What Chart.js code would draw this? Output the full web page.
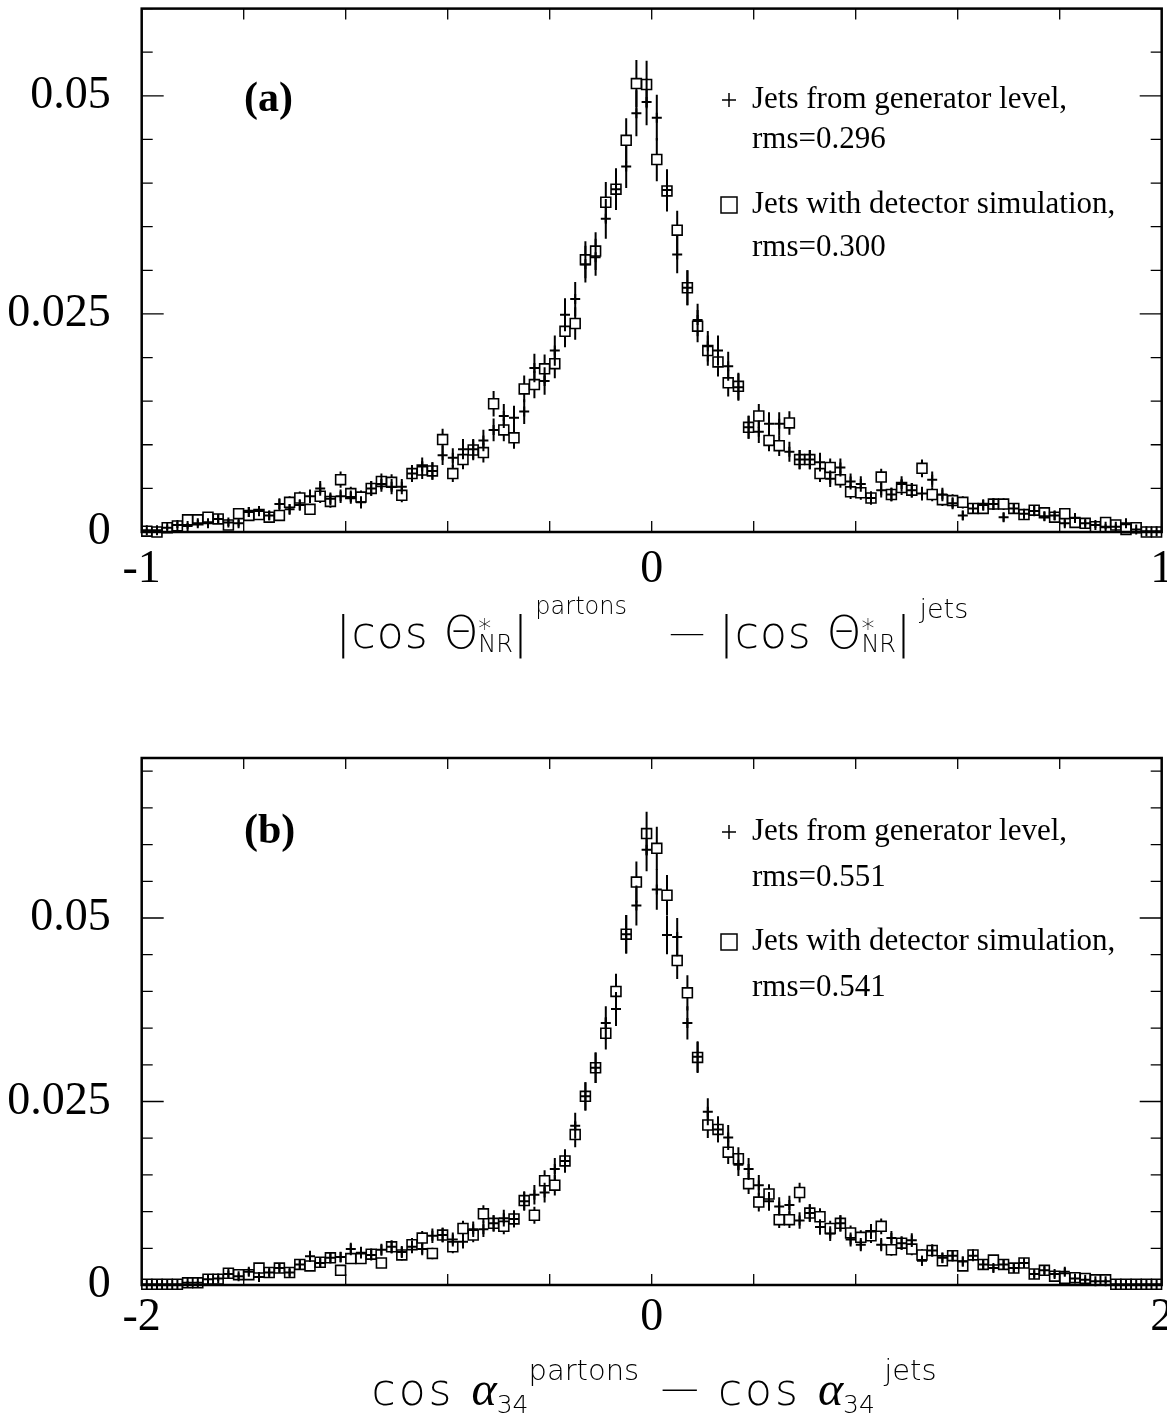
<!DOCTYPE html>
<html>
<head>
<meta charset="utf-8">
<script src="https://cdn.jsdelivr.net/npm/chart.js@4.4.1/dist/chart.umd.min.js"></script>
<style>
  html, body { margin: 0; padding: 0; background: #fff; overflow: hidden; width: 1167px; height: 1423px; }
  .panel { position: absolute; left: 0; }
  #panelA { top: 0; }
  #panelB { top: 700px; }
</style>
</head>
<body>
<div class="panel" id="panelA"><canvas id="chartA" width="1200" height="700"></canvas></div>
<div class="panel" id="panelB"><canvas id="chartB" width="1200" height="723"></canvas></div>
<script>
// ---- data (100 bins per panel) ----
const rangeA = [-1, 1];
const rangeB = [-2, 2];

// (a) |cos theta*_NR| partons - jets
const genA = [
  0.0002, 0.0002, 0.0005, 0.0008, 0.0007, 0.0010, 0.0010, 0.0015, 0.0011, 0.0010,
  0.0023, 0.0024, 0.0019, 0.0032, 0.0026, 0.0031, 0.0041, 0.0050, 0.0038, 0.0041,
  0.0040, 0.0034, 0.0050, 0.0055, 0.0052, 0.0052, 0.0067, 0.0075, 0.0070, 0.0088,
  0.0085, 0.0095, 0.0095, 0.0105, 0.0117, 0.0133, 0.0131, 0.0138, 0.0188, 0.0173,
  0.0208, 0.0249, 0.0267, 0.0307, 0.0315, 0.0359, 0.0393, 0.0419, 0.0480, 0.0493,
  0.0475, 0.0392, 0.0318, 0.0280, 0.0243, 0.0213, 0.0208, 0.0190, 0.0166, 0.0120,
  0.0115, 0.0124, 0.0124, 0.0092, 0.0083, 0.0083, 0.0080, 0.0061, 0.0074, 0.0058,
  0.0055, 0.0039, 0.0048, 0.0043, 0.0055, 0.0048, 0.0044, 0.0060, 0.0043, 0.0033,
  0.0019, 0.0027, 0.0031, 0.0032, 0.0017, 0.0027, 0.0021, 0.0024, 0.0018, 0.0019,
  0.0010, 0.0016, 0.0010, 0.0008, 0.0006, 0.0006, 0.0010, 0.0003, 0.0001, 0.0001
];
const detA = [
  0.0001, 0.0000, 0.0005, 0.0007, 0.0014, 0.0014, 0.0017, 0.0015, 0.0008, 0.0021,
  0.0019, 0.0020, 0.0017, 0.0019, 0.0034, 0.0039, 0.0026, 0.0041, 0.0035, 0.0060,
  0.0044, 0.0040, 0.0050, 0.0058, 0.0057, 0.0042, 0.0067, 0.0071, 0.0070, 0.0106,
  0.0067, 0.0083, 0.0094, 0.0091, 0.0147, 0.0117, 0.0108, 0.0164, 0.0169, 0.0187,
  0.0193, 0.0230, 0.0239, 0.0312, 0.0322, 0.0378, 0.0393, 0.0449, 0.0514, 0.0513,
  0.0427, 0.0391, 0.0346, 0.0280, 0.0236, 0.0208, 0.0195, 0.0171, 0.0167, 0.0120,
  0.0133, 0.0105, 0.0099, 0.0125, 0.0083, 0.0083, 0.0067, 0.0074, 0.0060, 0.0046,
  0.0045, 0.0039, 0.0063, 0.0043, 0.0051, 0.0048, 0.0073, 0.0043, 0.0037, 0.0036,
  0.0034, 0.0027, 0.0027, 0.0032, 0.0032, 0.0027, 0.0020, 0.0025, 0.0022, 0.0017,
  0.0021, 0.0011, 0.0010, 0.0006, 0.0011, 0.0008, 0.0003, 0.0005, 0.0000, 0.0000
];

// (b) cos alpha_34 partons - jets
const genB = [
  0.0001, 0.0001, 0.0001, 0.0001, 0.0003, 0.0003, 0.0008, 0.0009, 0.0015, 0.0012,
  0.0018, 0.0011, 0.0017, 0.0023, 0.0017, 0.0028, 0.0039, 0.0030, 0.0037, 0.0038,
  0.0049, 0.0044, 0.0041, 0.0048, 0.0052, 0.0045, 0.0052, 0.0049, 0.0067, 0.0068,
  0.0062, 0.0059, 0.0076, 0.0076, 0.0084, 0.0091, 0.0090, 0.0114, 0.0123, 0.0126,
  0.0158, 0.0169, 0.0217, 0.0257, 0.0296, 0.0357, 0.0376, 0.0478, 0.0517, 0.0593,
  0.0539, 0.0477, 0.0474, 0.0357, 0.0311, 0.0236, 0.0212, 0.0201, 0.0164, 0.0158,
  0.0136, 0.0114, 0.0107, 0.0109, 0.0088, 0.0098, 0.0079, 0.0070, 0.0084, 0.0062,
  0.0055, 0.0073, 0.0055, 0.0064, 0.0057, 0.0061, 0.0033, 0.0047, 0.0037, 0.0040,
  0.0032, 0.0040, 0.0028, 0.0023, 0.0028, 0.0023, 0.0030, 0.0015, 0.0020, 0.0015,
  0.0018, 0.0009, 0.0007, 0.0005, 0.0005, 0.0001, 0.0001, 0.0001, 0.0001, 0.0001
];
const detB = [
  0.0001, 0.0001, 0.0001, 0.0001, 0.0003, 0.0003, 0.0008, 0.0008, 0.0016, 0.0014,
  0.0014, 0.0023, 0.0017, 0.0023, 0.0017, 0.0028, 0.0026, 0.0031, 0.0037, 0.0020,
  0.0036, 0.0036, 0.0042, 0.0030, 0.0052, 0.0041, 0.0055, 0.0064, 0.0043, 0.0068,
  0.0052, 0.0077, 0.0068, 0.0097, 0.0084, 0.0080, 0.0090, 0.0115, 0.0095, 0.0142,
  0.0136, 0.0169, 0.0205, 0.0257, 0.0296, 0.0343, 0.0400, 0.0478, 0.0549, 0.0615,
  0.0595, 0.0531, 0.0442, 0.0398, 0.0310, 0.0218, 0.0212, 0.0181, 0.0172, 0.0138,
  0.0113, 0.0124, 0.0089, 0.0089, 0.0126, 0.0098, 0.0093, 0.0077, 0.0084, 0.0071,
  0.0065, 0.0067, 0.0080, 0.0048, 0.0057, 0.0049, 0.0041, 0.0047, 0.0033, 0.0040,
  0.0026, 0.0041, 0.0028, 0.0034, 0.0028, 0.0023, 0.0030, 0.0015, 0.0020, 0.0012,
  0.0009, 0.0010, 0.0009, 0.0007, 0.0007, 0.0001, 0.0001, 0.0001, 0.0001, 0.0001
];

const legendA = ['Jets from generator level,', 'rms=0.296', 'Jets with detector simulation,', 'rms=0.300'];
const legendB = ['Jets from generator level,', 'rms=0.551', 'Jets with detector simulation,', 'rms=0.541'];

const xTicksA = [-1, 0, 1];
const xTickLabelsA = ['-1', '0', '1'];
const xTicksB = [-2, 0, 2];
const xTickLabelsB = ['-2', '0', '2'];
const yTicks = [0, 0.025, 0.05];
const yTickLabels = ['0', '0.025', '0.05'];

// statistical error scale (err = k * sqrt(content))
const errScale = 0.012;

// ---- helpers ----
const plotLeft = 141.7;
const plotRight = 1161.7;
const canvasW = 1200;
const serif = '"Liberation Serif", "Times New Roman", serif';
const titleFont = '"DejaVu Sans", sans-serif';

function toPoints(range, vals) {
  const w = (range[1] - range[0]) / vals.length;
  return vals.map((v, i) => ({ x: range[0] + (i + 0.5) * w, y: v }));
}

function fontOf(p) {
  if (p.serif) return 'italic ' + p.size + 'px ' + serif;
  return '200 ' + p.size + 'px ' + titleFont;
}

// draws a title made of pieces; a piece with stack:true shares its x with the next one
function drawTitle(ctx, parts, cx, baseline) {
  ctx.save();
  ctx.fillStyle = '#000';
  ctx.textBaseline = 'alphabetic';
  ctx.textAlign = 'left';
  const widths = parts.map(p => {
    ctx.font = fontOf(p);
    ctx.letterSpacing = (p.ls || 0) + 'px';
    return ctx.measureText(p.t).width;
  });
  let total = 0, stackW = null;
  parts.forEach((p, i) => {
    if (p.stack) { stackW = widths[i]; return; }
    total += stackW !== null ? Math.max(stackW, widths[i]) : widths[i];
    stackW = null;
  });
  let x = cx - total / 2;
  stackW = null;
  parts.forEach((p, i) => {
    ctx.font = fontOf(p);
    ctx.letterSpacing = (p.ls || 0) + 'px';
    ctx.fillText(p.t, x, baseline + (p.dy || 0));
    if (p.stack) { stackW = widths[i]; return; }
    x += stackW !== null ? Math.max(stackW, widths[i]) : widths[i];
    stackW = null;
  });
  ctx.restore();
}

function panelPlugin(cfg) {
  return {
    id: 'panel' + cfg.tag,
    beforeDatasetDraw(chart, args) {
      // vertical error bars, drawn just before each dataset's markers
      const ds = chart.data.datasets[args.index];
      const y = chart.scales.y;
      const ctx = chart.ctx;
      ctx.save();
      ctx.strokeStyle = '#000';
      ctx.lineWidth = 2;
      ctx.beginPath();
      args.meta.data.forEach((el, i) => {
        const v = ds.data[i].y, e = ds.errors[i];
        ctx.moveTo(el.x, y.getPixelForValue(v - e));
        ctx.lineTo(el.x, y.getPixelForValue(v + e));
      });
      ctx.stroke();
      ctx.restore();
    },
    afterDatasetsDraw(chart) {
      const { ctx, chartArea } = chart;
      const { left, right, top, bottom } = chartArea;
      const xs = chart.scales.x, ys = chart.scales.y;
      ctx.save();
      ctx.strokeStyle = '#000';
      // tick marks, pointing inwards on all four sides
      ctx.lineWidth = 1.3;
      ctx.beginPath();
      const nx = Math.round((cfg.range[1] - cfg.range[0]) / cfg.xStep);
      for (let k = 1; k < nx; k++) {
        const px = xs.getPixelForValue(cfg.range[0] + k * cfg.xStep);
        ctx.moveTo(px, bottom); ctx.lineTo(px, bottom - 11);
        ctx.moveTo(px, top); ctx.lineTo(px, top + 11);
      }
      const ny = Math.floor(cfg.yMax / cfg.yStep + 1e-6);
      for (let k = 1; k <= ny; k++) {
        const py = ys.getPixelForValue(k * cfg.yStep);
        const len = (k % cfg.majorEvery === 0) ? 22 : 11;
        ctx.moveTo(left, py); ctx.lineTo(left + len, py);
        ctx.moveTo(right, py); ctx.lineTo(right - len, py);
      }
      ctx.stroke();
      // frame
      ctx.lineWidth = 2.5;
      ctx.strokeRect(left, top, right - left, bottom - top);

      // panel tag
      ctx.fillStyle = '#000';
      ctx.textBaseline = 'middle';
      ctx.font = 'bold 42px ' + serif;
      ctx.fillText(cfg.tag, 244, cfg.legendY[0]);

      // legend
      const lx = 729, tx = 752;
      ctx.lineWidth = 1.5;
      ctx.beginPath();
      ctx.moveTo(lx - 7, cfg.legendY[0]); ctx.lineTo(lx + 7, cfg.legendY[0]);
      ctx.moveTo(lx, cfg.legendY[0] - 7); ctx.lineTo(lx, cfg.legendY[0] + 7);
      ctx.stroke();
      ctx.strokeRect(lx - 8, cfg.legendY[2] - 8, 16, 16);
      ctx.font = '31px ' + serif;
      cfg.legend.forEach((t, i) => ctx.fillText(t, tx, cfg.legendY[i]));

      // axis title
      drawTitle(ctx, cfg.title, cfg.titleX, cfg.titleBaseline);
      ctx.restore();
    }
  };
}

function makeChart(id, cfg) {
  const ctx = document.getElementById(id).getContext('2d');
  return new Chart(ctx, {
    type: 'scatter',
    data: {
      datasets: [{
        label: 'Jets from generator level',
        data: toPoints(cfg.range, cfg.gen),
        errors: cfg.gen.map(v => errScale * Math.sqrt(v)),
        pointStyle: 'cross',
        pointRadius: 5,
        pointBorderWidth: 2,
        pointBorderColor: '#000',
        pointBackgroundColor: '#000',
        clip: false
      }, {
        label: 'Jets with detector simulation',
        data: toPoints(cfg.range, cfg.det),
        errors: cfg.det.map(v => errScale * Math.sqrt(v)),
        pointStyle: 'rect',
        pointRadius: 7,
        pointBorderWidth: 1.6,
        pointBorderColor: '#000',
        pointBackgroundColor: '#fff',
        clip: false
      }]
    },
    options: {
      responsive: false,
      animation: false,
      events: [],
      layout: { padding: { top: cfg.padTop, right: canvasW - plotRight, left: 0, bottom: 0 } },
      plugins: { legend: { display: false }, tooltip: { enabled: false } },
      scales: {
        x: {
          type: 'linear', min: cfg.range[0], max: cfg.range[1],
          grid: { display: false, drawTicks: false }, border: { display: false },
          afterBuildTicks: s => { s.ticks = cfg.xTicks.map(v => ({ value: v })); },
          afterFit: s => { s.height = cfg.canvasH - cfg.plotBottom; s.paddingLeft = 0; s.paddingRight = 0; },
          ticks: {
            callback: (v, i) => cfg.xLabels[i],
            font: { family: serif, size: 46 }, color: '#000',
            padding: cfg.xLabelPad, maxRotation: 0, autoSkip: false
          }
        },
        y: {
          type: 'linear', min: 0, max: cfg.yMax,
          grid: { display: false, drawTicks: false }, border: { display: false },
          afterBuildTicks: s => { s.ticks = yTicks.map(v => ({ value: v })); },
          afterFit: s => { s.width = plotLeft; s.paddingTop = 0; s.paddingBottom = 0; },
          ticks: {
            callback: (v, i) => yTickLabels[i],
            font: { family: serif, size: 46 }, color: '#000',
            padding: 31
          }
        }
      }
    },
    plugins: [panelPlugin(cfg)]
  });
}

// (a)
makeChart('chartA', {
  tag: '(a)', range: rangeA, gen: genA, det: detA,
  yMax: 0.06, padTop: 8, plotBottom: 532, canvasH: 700, xLabelPad: 10,
  xTicks: xTicksA, xLabels: xTickLabelsA, xStep: 0.2, yStep: 0.005, majorEvery: 5,
  legend: legendA, legendY: [100, 140, 205, 248],
  titleX: 652, titleBaseline: 648,
  title: [
    { t: '|cos ', size: 44, ls: 1 },
    { t: 'Θ', size: 44 },
    { t: '*', size: 26, dy: -10, stack: true },
    { t: 'NR', size: 24, dy: 4 },
    { t: '|', size: 44 },
    { t: ' partons', size: 24, dy: -34 },
    { t: '   ', size: 44 },
    { t: '—', size: 36, dy: -4 },
    { t: ' ', size: 44 },
    { t: '|cos ', size: 44, ls: 1 },
    { t: 'Θ', size: 44 },
    { t: '*', size: 26, dy: -10, stack: true },
    { t: 'NR', size: 24, dy: 4 },
    { t: '|', size: 44 },
    { t: ' jets', size: 27, dy: -30 }
  ]
});

// (b)
makeChart('chartB', {
  tag: '(b)', range: rangeB, gen: genB, det: detB,
  yMax: 0.0718, padTop: 58, plotBottom: 585, canvasH: 723, xLabelPad: 5,
  xTicks: xTicksB, xLabels: xTickLabelsB, xStep: 0.4, yStep: 0.005, majorEvery: 5,
  legend: legendB, legendY: [132, 178, 242, 288],
  titleX: 654, titleBaseline: 705,
  title: [
    { t: 'cos ', size: 44, ls: 3 },
    { t: 'α', size: 48, serif: true },
    { t: '34', size: 25, dy: 8 },
    { t: 'partons', size: 29, dy: -25 },
    { t: '  ', size: 34 },
    { t: '—', size: 38, dy: -4 },
    { t: '  ', size: 30 },
    { t: 'cos ', size: 44, ls: 3 },
    { t: 'α', size: 48, serif: true },
    { t: '34', size: 25, dy: 8 },
    { t: ' jets', size: 29, dy: -25 }
  ]
});
</script>
</body>
</html>
